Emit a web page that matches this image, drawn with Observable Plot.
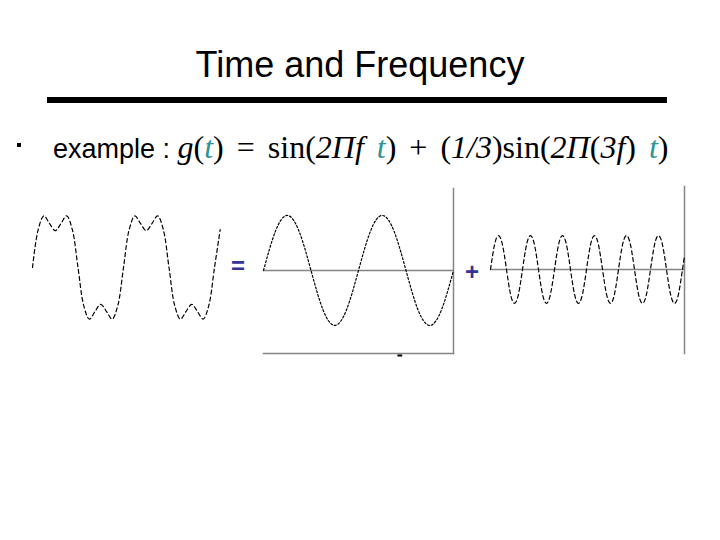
<!DOCTYPE html>
<html>
<head>
<meta charset="utf-8">
<script src="https://cdn.jsdelivr.net/npm/d3@7"></script>
<script src="https://cdn.jsdelivr.net/npm/@observablehq/plot@0.6"></script>
<style>
  body { margin: 0; background: #fff; }
  #page { position: relative; width: 720px; height: 540px; background: #fff; overflow: hidden; }
  .abs { position: absolute; }
  #title { left: 0; width: 720px; top: 45px; text-align: center; font: 36px/40px "Liberation Sans", Arial, sans-serif; color: #000; }
  #bar { left: 47px; top: 97px; width: 620px; height: 6px; background: #000; }
  #sub { left: 53px; top: 131px; white-space: nowrap; font: 27px/32px "Liberation Sans", Arial, sans-serif; color: #000; }
  #bullet { left: 17px; top: 143px; width: 4px; height: 4px; background: #000; }
  .serif { font-family: "Liberation Serif", "Times New Roman", serif; font-size: 32px; word-spacing: 5px; }
  .tt { color: #2e9595; }
  .op { font: bold 24px "Liberation Sans", Arial, sans-serif; color: #333399; line-height: 24px; }
  svg { overflow: visible; }
</style>
</head>
<body>
<div id="page">
  <div id="title" class="abs">Time and Frequency</div>
  <div id="bar" class="abs"></div>
  <div id="bullet" class="abs"></div>
  <div id="sub" class="abs">example : <span class="serif"><i>g</i>(<i class="tt">t</i>) = sin(<i>2Πf</i> <i class="tt">t</i>) + (<i>1/3</i>)sin(<i>2Π</i>(<i>3f</i>) <i class="tt">t</i>)</span></div>
  <div class="abs op" style="left:231px; top:254px;">=</div>
  <div class="abs op" style="left:465px; top:260px;">+</div>
</div>
<script>
// ---- data ----
// composite g(t): time in periods of f
const compT = [0,0.0625,0.125,0.1875,0.25,0.3125,0.375,0.4375,0.5,0.5625,0.625,0.6875,0.75,0.8125,0.875,0.9375,
  1,1.0625,1.125,1.1875,1.25,1.3125,1.375,1.4375,1.5,1.5625,1.625,1.6875,1.75,1.8125,1.875,1.9375,2,2.0625];
const compV = [0,0.69,0.94,0.80,0.67,0.80,0.94,0.69,0,-0.69,-0.94,-0.80,-0.67,-0.80,-0.94,-0.69,
  0,0.69,0.94,0.80,0.67,0.80,0.94,0.69,0,-0.69,-0.94,-0.80,-0.67,-0.80,-0.94,-0.69,0,0.69];

// fundamental sin(2π f t)
const fundT = [0,0.125,0.25,0.375,0.5,0.625,0.75,0.875,1,1.125,1.25,1.375,1.5,1.625,1.75,1.875,2];
const fundV = [0,0.71,1,0.71,0,-0.71,-1,-0.71,0,0.71,1,0.71,0,-0.71,-1,-0.71,0];
const fundMarkT = [1.44];

// third harmonic (1/3) sin(2π 3f t): time in periods of 3f
const harmT = [0,0.125,0.25,0.375,0.5,0.625,0.75,0.875,1,1.125,1.25,1.375,1.5,1.625,1.75,1.875,
  2,2.125,2.25,2.375,2.5,2.625,2.75,2.875,3,3.125,3.25,3.375,3.5,3.625,3.75,3.875,
  4,4.125,4.25,4.375,4.5,4.625,4.75,4.875,5,5.125,5.25,5.375,5.5,5.625,5.75,5.875,6,6.0625];
const harmV = [0,0.24,0.33,0.24,0,-0.24,-0.33,-0.24,0,0.24,0.33,0.24,0,-0.24,-0.33,-0.24,
  0,0.24,0.33,0.24,0,-0.24,-0.33,-0.24,0,0.24,0.33,0.24,0,-0.24,-0.33,-0.24,
  0,0.24,0.33,0.24,0,-0.24,-0.33,-0.24,0,0.24,0.33,0.24,0,-0.24,-0.33,-0.24,0,0.13];

const page = document.getElementById("page");
const axisGray = "#858585";
function place(svg, left, top) {
  svg.style.position = "absolute";
  svg.style.left = left + "px";
  svg.style.top = top + "px";
  svg.style.background = "transparent";
  page.appendChild(svg);
}
const zip = (ts, vs) => ts.map((t, i) => ({t, v: vs[i]}));

// Panel 1: composite
const p1 = Plot.plot({
  width: 190, height: 134,
  margin: 0,
  x: {domain: [0, 190 / 91], axis: null},
  y: {domain: [-1.22, 1.22], axis: null},
  marks: [
    Plot.line(zip(compT, compV), {x: "t", y: "v", curve: "catmull-rom", stroke: "#000", strokeWidth: 1.2, strokeDasharray: "4,3"})
  ]
});
place(p1, 32, 200);

// Panel 2: fundamental
const p2 = Plot.plot({
  width: 192, height: 166,
  marginLeft: 0, marginRight: 2, marginTop: 0, marginBottom: 1,
  x: {domain: [0, 2], axis: null},
  y: {domain: [-1.51, 1.49], axis: null},
  marks: [
    Plot.frame({anchor: "bottom", stroke: axisGray, strokeWidth: 1.5}),
    Plot.frame({anchor: "right", stroke: axisGray, strokeWidth: 1.5}),
    Plot.ruleY([0], {stroke: axisGray, strokeWidth: 1.5}),
    Plot.ruleY(fundMarkT, {y: () => -1.51, x1: d => d - 0.025, x2: d => d + 0.025, dy: 2, stroke: "#000", strokeWidth: 2}),
    Plot.line(zip(fundT, fundV), {x: "t", y: "v", curve: "natural", stroke: "#000", strokeWidth: 1.2, strokeDasharray: "2,2"})
  ]
});
place(p2, 263, 188);

// Panel 3: third harmonic
const p3 = Plot.plot({
  width: 196, height: 167,
  marginLeft: 0, marginRight: 2, marginTop: 0, marginBottom: 0,
  x: {domain: [0, 6.0625], axis: null},
  y: {domain: [-0.82, 0.81], axis: null},
  marks: [
    Plot.frame({anchor: "right", stroke: axisGray, strokeWidth: 1.5}),
    Plot.ruleY([0], {stroke: axisGray, strokeWidth: 1.5}),
    Plot.line(zip(harmT, harmV), {x: "t", y: "v", curve: "natural", stroke: "#000", strokeWidth: 1.2, strokeDasharray: "4,3"})
  ]
});
place(p3, 490, 186);
</script>
</body>
</html>
